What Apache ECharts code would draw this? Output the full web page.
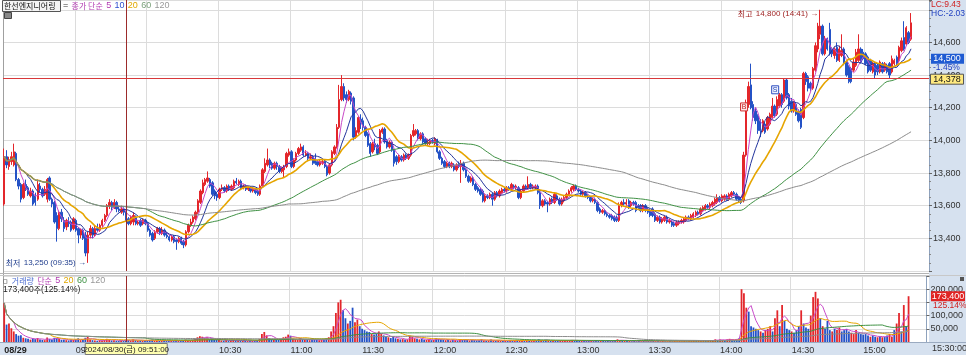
<!DOCTYPE html>
<html><head><meta charset="utf-8">
<script src="https://cdn.jsdelivr.net/npm/echarts@6/dist/echarts.min.js"></script>
<style>html,body{margin:0;padding:0;background:#fff;}#c{width:966px;height:355px;}</style>
</head><body><div id="c"></div>
<script>
// ---------- DATA (1-minute candles, 09:00 .. 15:19) ----------
const stockName = '한선엔지니어링';
const opens = [
13610,13900,13840,13870,13850,13920,13760,13730,13650,13730,
13710,13660,13690,13660,13640,13720,13700,13670,13640,13770,
13640,13620,13540,13460,13560,13510,13470,13500,13500,13460,
13510,13460,13420,13450,13420,13310,13420,13460,13420,13460,
13450,13480,13510,13540,13600,13620,13590,13620,13580,13560,
13580,13560,13520,13490,13500,13530,13490,13510,13490,13510,
13490,13450,13430,13400,13440,13460,13430,13450,13420,13410,
13390,13410,13390,13380,13400,13380,13360,13440,13480,13500,
13520,13560,13620,13680,13730,13750,13760,13740,13690,13670,
13650,13700,13710,13690,13720,13700,13710,13750,13730,13750,
13710,13720,13700,13710,13690,13700,13690,13670,13720,13810,
13850,13880,13860,13830,13860,13840,13810,13820,13840,13910,
13930,13840,13880,13920,13940,13960,13910,13920,13890,13900,
13890,13870,13850,13860,13870,13840,13800,13850,13920,13960,
14080,14250,14330,14280,14250,14290,14260,14020,14050,14130,
14120,14080,14040,13980,13930,13980,13970,13930,14050,14070,
14000,13960,13990,13940,13900,13870,13900,13880,13910,13890,
13910,14030,14040,14060,14010,14040,14010,13980,13980,14000,
13980,14000,13930,13890,13870,13840,13860,13840,13850,13820,
13860,13840,13860,13820,13780,13750,13770,13730,13710,13700,
13690,13630,13660,13650,13670,13640,13680,13660,13680,13700,
13690,13710,13700,13720,13710,13710,13650,13690,13720,13710,
13730,13710,13710,13720,13680,13600,13630,13620,13610,13640,
13620,13660,13640,13610,13630,13650,13670,13690,13700,13720,
13700,13690,13670,13680,13660,13650,13630,13640,13620,13580,
13560,13570,13550,13540,13540,13530,13530,13510,13600,13620,
13610,13630,13600,13620,13620,13600,13600,13570,13600,13580,
13570,13580,13550,13510,13530,13500,13510,13530,13500,13500,
13490,13480,13490,13500,13500,13510,13530,13520,13530,13540,
13560,13550,13570,13580,13600,13590,13600,13610,13620,13650,
13630,13640,13660,13640,13660,13680,13670,13650,13640,13630,
13910,14220,14340,14220,14180,14150,14120,14060,14100,14070,
14100,14140,14210,14160,14210,14280,14240,14370,14280,14240,
14180,14220,14180,14190,14140,14410,14390,14350,14320,14430,
14560,14650,14700,14530,14620,14680,14560,14520,14570,14490,
14520,14560,14480,14450,14440,14430,14460,14490,14560,14540,
14530,14510,14490,14420,14470,14460,14420,14470,14430,14460,
14470,14420,14470,14510,14490,14550,14630,14590,14660,14620];
const closes = [
13900,13850,13880,13900,13930,13760,13720,13640,13730,13700,
13670,13690,13610,13620,13730,13700,13660,13700,13760,13640,
13610,13500,13460,13560,13520,13460,13510,13490,13450,13520,
13450,13420,13450,13400,13310,13420,13460,13420,13460,13450,
13480,13510,13540,13600,13620,13590,13620,13580,13570,13580,
13560,13510,13490,13530,13540,13490,13500,13480,13510,13490,
13450,13420,13390,13440,13460,13430,13450,13420,13410,13390,
13410,13380,13380,13400,13370,13360,13440,13480,13500,13530,
13560,13630,13690,13740,13760,13770,13720,13670,13660,13650,
13700,13710,13690,13720,13700,13720,13750,13740,13750,13710,
13720,13700,13710,13690,13700,13680,13670,13720,13820,13860,
13880,13850,13830,13860,13840,13810,13830,13840,13920,13930,
13840,13880,13920,13950,13960,13910,13920,13890,13900,13860,
13860,13850,13870,13870,13840,13790,13850,13930,13960,14080,
14250,14330,14260,14250,14300,14240,14020,14060,14140,14110,
14080,14030,13970,13920,13980,13960,13920,14060,14070,13990,
13960,13990,13940,13860,13870,13900,13880,13910,13890,13910,
14030,14060,14060,14010,14040,13990,13980,13990,14000,13990,
14010,13930,13890,13860,13840,13860,13840,13860,13820,13850,
13840,13860,13820,13780,13750,13770,13730,13700,13690,13670,
13630,13660,13650,13670,13640,13680,13660,13690,13700,13690,
13710,13700,13730,13710,13720,13650,13690,13720,13710,13730,
13710,13720,13720,13680,13600,13630,13610,13610,13640,13620,
13670,13640,13610,13640,13650,13670,13690,13710,13720,13700,
13690,13670,13680,13660,13650,13630,13640,13620,13570,13560,
13570,13550,13540,13530,13520,13510,13510,13600,13620,13610,
13620,13590,13620,13610,13570,13590,13570,13600,13570,13560,
13540,13540,13510,13530,13500,13520,13530,13500,13510,13480,
13480,13500,13500,13510,13520,13530,13520,13540,13550,13560,
13550,13580,13590,13600,13590,13610,13620,13640,13650,13630,
13660,13660,13640,13670,13680,13670,13640,13630,13620,13910,
14230,14330,14200,14140,14120,14060,14060,14120,14050,14140,
14160,14210,14150,14250,14280,14220,14370,14260,14210,14180,
14230,14160,14120,14080,14410,14360,14320,14320,14440,14580,
14700,14700,14530,14620,14560,14530,14530,14560,14490,14560,
14550,14470,14400,14360,14360,14480,14540,14560,14480,14500,
14470,14420,14430,14470,14400,14420,14480,14420,14470,14420,
14400,14500,14490,14470,14570,14610,14560,14690,14600,14720];
const highs = [
13950,13940,13900,13930,13980,13930,13770,13740,13740,13760,
13720,13710,13700,13680,13760,13740,13710,13720,13770,13780,
13650,13630,13560,13570,13580,13530,13520,13530,13510,13530,
13520,13470,13460,13460,13440,13440,13480,13470,13480,13490,
13490,13520,13550,13610,13640,13630,13640,13630,13600,13600,
13590,13570,13530,13540,13560,13540,13510,13520,13520,13520,
13500,13460,13440,13450,13470,13470,13470,13460,13440,13420,
13420,13420,13400,13410,13410,13390,13450,13490,13520,13540,
13570,13640,13700,13760,13770,13810,13770,13750,13700,13680,
13710,13730,13720,13730,13730,13730,13760,13770,13760,13760,
13730,13730,13720,13720,13710,13710,13700,13730,13830,13890,
13950,13890,13870,13870,13870,13850,13840,13850,13930,13950,
13940,13890,13930,13960,13980,13970,13940,13930,13920,13910,
13920,13880,13880,13880,13880,13850,13860,13940,13970,14100,
14340,14400,14350,14300,14310,14300,14270,14080,14150,14160,
14140,14090,14050,13990,13990,14010,13980,14070,14080,14080,
14010,14000,14000,13950,13910,13910,13910,13920,13920,13920,
14040,14100,14070,14070,14050,14050,14020,14010,14010,14010,
14020,14010,13940,13900,13880,13870,13870,13870,13860,13860,
13870,13880,13870,13830,13790,13780,13780,13740,13720,13710,
13700,13670,13670,13680,13680,13690,13690,13700,13710,13710,
13720,13720,13740,13730,13730,13720,13700,13730,13730,13780,
13740,13730,13730,13730,13690,13640,13640,13630,13650,13650,
13680,13670,13650,13650,13660,13680,13700,13720,13730,13730,
13710,13700,13690,13690,13670,13660,13650,13650,13630,13590,
13580,13580,13560,13550,13550,13540,13540,13620,13630,13640,
13640,13640,13630,13630,13630,13610,13610,13610,13610,13590,
13580,13590,13560,13540,13540,13530,13540,13540,13520,13510,
13500,13510,13510,13520,13530,13540,13540,13550,13560,13570,
13570,13590,13600,13610,13610,13620,13630,13650,13670,13660,
13670,13670,13670,13680,13690,13690,13680,13660,13650,13930,
14250,14360,14470,14240,14200,14160,14130,14130,14110,14150,
14170,14260,14220,14270,14290,14290,14380,14380,14290,14260,
14240,14230,14190,14200,14420,14420,14400,14360,14450,14600,
14720,14800,14710,14640,14630,14720,14570,14570,14600,14580,
14650,14570,14490,14460,14450,14500,14560,14650,14570,14560,
14540,14520,14500,14480,14480,14470,14490,14480,14480,14470,
14480,14520,14500,14520,14580,14630,14730,14700,14670,14780];
const lows = [
13600,13830,13820,13850,13840,13750,13700,13620,13640,13690,
13660,13650,13600,13600,13630,13680,13650,13660,13620,13630,
13590,13490,13380,13450,13500,13440,13450,13470,13440,13450,
13440,13370,13400,13390,13290,13250,13400,13400,13410,13440,
13440,13470,13500,13530,13580,13570,13580,13560,13560,13550,
13540,13500,13480,13480,13480,13480,13480,13470,13480,13480,
13440,13410,13380,13390,13430,13420,13420,13410,13400,13380,
13380,13370,13330,13370,13360,13340,13350,13430,13470,13490,
13510,13550,13610,13670,13720,13740,13710,13660,13640,13630,
13640,13690,13680,13680,13690,13690,13700,13730,13720,13700,
13700,13690,13690,13680,13680,13670,13660,13660,13710,13800,
13840,13830,13820,13820,13820,13800,13800,13770,13830,13900,
13830,13830,13870,13910,13930,13900,13900,13880,13880,13850,
13850,13840,13840,13850,13830,13780,13790,13840,13910,13950,
14070,14240,14240,14230,14240,14220,14000,14010,14040,14070,
14060,14020,13960,13900,13920,13940,13910,13920,14040,13980,
13950,13950,13930,13840,13850,13860,13870,13870,13880,13880,
13900,14020,14030,14000,14000,13980,13970,13970,13970,13980,
13970,13920,13880,13850,13830,13830,13830,13830,13810,13810,
13830,13740,13810,13770,13740,13740,13720,13690,13680,13660,
13620,13620,13640,13640,13600,13630,13650,13650,13670,13680,
13680,13690,13690,13700,13700,13640,13640,13680,13700,13700,
13700,13700,13700,13670,13580,13590,13600,13560,13600,13610,
13610,13630,13600,13600,13620,13640,13660,13680,13690,13690,
13680,13660,13660,13650,13640,13620,13620,13610,13560,13550,
13550,13540,13530,13520,13510,13500,13500,13500,13590,13600,
13600,13580,13590,13600,13560,13580,13560,13560,13560,13550,
13530,13530,13500,13500,13490,13490,13500,13490,13490,13470,
13470,13470,13480,13490,13490,13500,13510,13510,13520,13530,
13540,13540,13560,13570,13580,13580,13590,13600,13610,13620,
13620,13630,13630,13630,13650,13660,13630,13620,13610,13620,
13900,14200,14190,14120,14100,14040,14020,14050,14040,14060,
14090,14130,14140,14150,14200,14200,14230,14250,14190,14170,
14170,14150,14110,14070,14130,14340,14300,14300,14310,14420,
14540,14620,14520,14520,14550,14520,14510,14500,14480,14480,
14510,14460,14390,14350,14350,14420,14450,14480,14470,14490,
14460,14410,14420,14410,14380,14400,14410,14410,14420,14410,
14380,14410,14460,14460,14480,14540,14550,14580,14590,14610];
const volumes = [
148000,66000,70000,52000,40000,30000,24000,26000,16000,14000,
12000,9000,14000,11000,15000,9000,8000,7000,17000,12000,
9000,16000,14000,12000,8000,9000,7000,6000,9000,8000,
10000,14000,7000,9000,16000,20000,9000,7000,6000,5000,
7000,6000,8000,12000,9000,6000,7000,5000,4000,6000,
5000,9000,8000,6000,10000,7000,5000,6000,5000,4000,
6000,8000,9000,5000,6000,4000,5000,6000,4000,5000,
4000,5000,7000,4000,5000,6000,9000,7000,6000,8000,
10000,18000,22000,20000,15000,18000,12000,14000,9000,10000,
8000,6000,5000,7000,5000,6000,8000,6000,5000,6000,
4000,5000,4000,5000,4000,5000,6000,12000,30000,38000,
25000,15000,12000,9000,10000,8000,9000,18000,20000,28000,
24000,12000,10000,9000,14000,10000,8000,9000,7000,10000,
9000,8000,7000,8000,10000,14000,18000,40000,60000,110000,
150000,160000,120000,90000,70000,80000,130000,75000,85000,60000,
50000,45000,40000,38000,30000,28000,32000,40000,30000,25000,
20000,18000,15000,22000,14000,12000,10000,11000,9000,10000,
24000,20000,14000,12000,10000,12000,9000,8000,9000,7000,
8000,14000,12000,10000,9000,7000,8000,6000,9000,7000,
6000,10000,8000,9000,8000,6000,8000,7000,6000,7000,
10000,6000,5000,6000,9000,6000,5000,6000,5000,4000,
5000,4000,6000,5000,4000,8000,6000,5000,4000,8000,
4000,5000,4000,6000,10000,6000,5000,8000,5000,4000,
6000,5000,6000,5000,6000,5000,7000,6000,7000,5000,
5000,4000,5000,4000,5000,4000,5000,4000,8000,6000,
4000,5000,4000,5000,4000,5000,6000,10000,6000,5000,
4000,5000,4000,3000,5000,3000,4000,3000,4000,3000,
4000,3000,5000,3000,4000,3000,4000,3000,3000,4000,
3000,4000,3000,4000,3000,4000,3000,5000,4000,5000,
4000,5000,4000,5000,4000,6000,5000,8000,10000,6000,
9000,8000,7000,10000,12000,9000,8000,10000,14000,200000,
185000,130000,115000,60000,55000,50000,45000,40000,35000,45000,
50000,60000,40000,90000,120000,60000,140000,80000,50000,45000,
40000,35000,45000,60000,120000,70000,55000,50000,100000,170000,
190000,165000,90000,60000,50000,80000,45000,40000,50000,45000,
55000,40000,45000,50000,40000,35000,30000,45000,35000,30000,
28000,30000,25000,20000,25000,20000,18000,22000,18000,20000,
25000,30000,20000,45000,70000,110000,40000,140000,60000,173400];
const maPeriods = [5, 10, 20, 60, 120];
const volMaPeriods = [5, 20, 60, 120];
const priceTicks = [13400, 13600, 13800, 14000, 14200, 14400, 14600];
const volTicks = [50000, 100000, 200000];
const xTickTimes = ['09:00','09:30','10:30','11:00','11:30','12:00','12:30','13:00','13:30','14:00','14:30','15:00'];
const crossTime = '09:51', crossPrice = 14378;
const lastPrice = 14500, lastVol = 173400;
const lowInfo = {time:'09:35', price:13250}, highInfo = {time:'14:41', price:14800};

// ---------- build ----------
const categories = [];
for (let m = 0; m < 387; m++) { const t = 540 + m; categories.push(String(Math.floor(t/60)).padStart(2,'0') + ':' + String(t%60).padStart(2,'0')); }
const candles = opens.map((o,i)=>[o, closes[i], lows[i], highs[i]]);
function sma(arr, n){ return arr.map((_,i)=>{ const s=Math.max(0,i-n+1); let sum=0; for(let k=s;k<=i;k++) sum+=arr[k]; return +(sum/(i-s+1)).toFixed(1); }); }
const RED='#e3262b', BLUE='#2452c6';
const maColors = {5:'#c84ac8',10:'#22349c',20:'#e6a500',60:'#3f9144',120:'#8c8c8c'};
const fmt = v => Number(v).toLocaleString('en-US');
const isGrid = v => v.endsWith(':00') || v.endsWith(':30');
const FONT = "'Liberation Sans', Arial, sans-serif";
const KFONT = "'Noto Sans CJK KR', sans-serif";

const series = [{
  type:'candlestick', xAxisIndex:0, yAxisIndex:0, data:candles, barWidth:'78%', z:2,
  itemStyle:{color:RED, color0:BLUE, borderColor:RED, borderColor0:BLUE, borderWidth:1},
  markLine:{symbol:'none', silent:true, label:{show:false}, animation:false,
    data:[{xAxis:crossTime, lineStyle:{color:'#9c2b2b', width:1, type:'solid'}},
          {yAxis:crossPrice, lineStyle:{color:'#d8383a', width:1, type:'solid'}}]}
}];
maPeriods.forEach(n=>series.push({type:'line', xAxisIndex:0, yAxisIndex:0, data:sma(closes,n), symbol:'none', z:3,
  lineStyle:{color:maColors[n], width:n===20?1.6:1}}));
series.push({type:'bar', xAxisIndex:1, yAxisIndex:1, data:volumes, barWidth:'75%', z:2,
  itemStyle:{color:p=> closes[p.dataIndex]>=opens[p.dataIndex]?RED:BLUE},
  markLine:{symbol:'none', silent:true, label:{show:false}, animation:false,
    data:[{xAxis:crossTime, lineStyle:{color:'#9c2b2b', width:1, type:'solid'}}]}});
volMaPeriods.forEach(n=>series.push({type:'line', xAxisIndex:1, yAxisIndex:1, data:sma(volumes,n), symbol:'none', z:3,
  lineStyle:{color:maColors[n], width:1}}));

const xAxisBase = {type:'category', data:categories, boundaryGap:true,
  axisLine:{show:false}, axisTick:{show:false},
  splitLine:{show:true, interval:(i,v)=>isGrid(v), lineStyle:{color:'#dcdcdc', width:1}}};
const chart = echarts.init(document.getElementById('c'), null, {renderer:'canvas'});
chart.setOption({
  animation:false, backgroundColor:'#ffffff',
  grid:[{left:3, right:37, top:0, height:271}, {left:3, right:37, top:276, height:66}],
  xAxis:[Object.assign({}, xAxisBase, {gridIndex:0, axisLabel:{show:false}}),
         Object.assign({}, xAxisBase, {gridIndex:1, axisLabel:{show:true, interval:(i,v)=>xTickTimes.includes(v),
            formatter:v=> v==='09:00'?'{b|08/29}':v, align:'left', margin:4, fontSize:9, color:'#333', fontFamily:FONT,
            rich:{b:{fontWeight:'bold', fontSize:9, color:'#222', fontFamily:FONT}}}})],
  yAxis:[{type:'value', gridIndex:0, position:'right', min:13200, max:14860, interval:200,
      axisLine:{show:true, lineStyle:{color:'#8ea2bd'}}, axisTick:{show:true, length:3, lineStyle:{color:'#666'}},
      minorTick:{show:true, splitNumber:4, length:2, lineStyle:{color:'#888'}},
      splitLine:{show:true, lineStyle:{color:'#dcdcdc'}},
      axisLabel:{margin:4, fontSize:9, color:'#333', fontFamily:FONT, formatter:v=> priceTicks.includes(v)?fmt(v):''}},
    {type:'value', gridIndex:1, position:'right', min:0, max:250000, interval:50000,
      axisLine:{show:true, lineStyle:{color:'#8ea2bd'}}, axisTick:{show:true, length:3, lineStyle:{color:'#666'}},
      splitLine:{show:true, lineStyle:{color:'#dcdcdc'}},
      axisLabel:{margin:4, fontSize:9, color:'#333', fontFamily:FONT, formatter:v=> volTicks.includes(v)?fmt(v):''}}],
  series
});

// ---------- overlays positioned through the axes ----------
const yP = v => chart.convertToPixel({yAxisIndex:0}, v);
const yV = v => chart.convertToPixel({yAxisIndex:1}, v);
const xC = t => chart.convertToPixel({xAxisIndex:0}, t);
const K = (s, c, fs) => ({fill:c, fontSize:fs||8, fontFamily:KFONT});
const N = (c, fs) => ({fill:c, fontSize:fs||8, fontFamily:FONT});
const g = [];
g.push({type:'rect', z:-5, silent:true, shape:{x:929,y:0,width:37,height:355}, style:{fill:'#d6e1ef'}});
g.push({type:'rect', z:-5, silent:true, shape:{x:0,y:342,width:966,height:13}, style:{fill:'#d6e1ef'}});
g.push({type:'line', z:1, silent:true, shape:{x1:0,y1:342.5,x2:966,y2:342.5}, style:{stroke:'#9aaac0', lineWidth:1}});
g.push({type:'line', z:1, silent:true, shape:{x1:3.5,y1:0,x2:3.5,y2:342}, style:{stroke:'#a0a0a0', lineWidth:1}});
g.push({type:'line', z:1, silent:true, shape:{x1:0,y1:273.5,x2:929,y2:273.5}, style:{stroke:'#b4b4b4', lineWidth:1}});
g.push({type:'line', z:1, silent:true, shape:{x1:0,y1:275.5,x2:966,y2:275.5}, style:{stroke:'#c8c8c8', lineWidth:1}});
// legends
g.push({type:'rect', z:10, shape:{x:2.5,y:0.5,width:58,height:11}, style:{fill:'#f4f4f4', stroke:'#555', lineWidth:1}});
g.push({type:'text', z:11, x:4, y:6, style:{text:stockName, fontSize:8, fontFamily:KFONT, fill:'#111', verticalAlign:'middle'}});
g.push({type:'text', z:11, x:63, y:6, style:{text:'{e|=} {p|종가 단순} {q|5} {b|10} {y|20} {g|60} {s|120}', verticalAlign:'middle',
  rich:{e:N('#333',9), p:K('','#b23cb2'), q:N('#b23cb2',9), b:N('#2e4fd0',9), y:N('#e0a800',9), g:N('#7aa07a',9), s:N('#999',9)}}});
g.push({type:'rect', z:10, shape:{x:4.5,y:12.5,width:7,height:6}, style:{fill:'#888', stroke:'#444', lineWidth:1}});
g.push({type:'text', z:11, x:2, y:281, style:{text:'{e|ㅁ} {v|거래량} {p|단순} {q|5} {y|20} {g|60} {s|120}', verticalAlign:'middle',
  rich:{e:K('','#666',7), v:K('','#4a6bd0'), p:K('','#b23cb2'), q:N('#b23cb2',9), y:N('#e0a800',9), g:N('#3f9144',9), s:N('#999',9)}}});
g.push({type:'text', z:11, x:3, y:290, style:{text:'{n|173,400}{k|주}{n|(125.14%)}', verticalAlign:'middle',
  rich:{n:N('#222',8.5), k:K('','#222')}}});
// right column texts
g.push({type:'text', z:11, x:931, y:5, style:{text:'LC:9.43', fontSize:8.5, fontFamily:FONT, fill:'#d02020', verticalAlign:'middle'}});
g.push({type:'text', z:11, x:931, y:13.5, style:{text:'HC:-2.03', fontSize:8.5, fontFamily:FONT, fill:'#2040c0', verticalAlign:'middle'}});
const yLast = yP(lastPrice);
g.push({type:'rect', z:20, shape:{x:931,y:yLast-5,width:33,height:10}, style:{fill:'#1f5bd2'}});
g.push({type:'text', z:21, x:947, y:yLast, style:{text:fmt(lastPrice), fontSize:9, fontFamily:FONT, fill:'#fff', align:'center', verticalAlign:'middle'}});
g.push({type:'text', z:21, x:933, y:yLast+9, style:{text:'-1.45%', fontSize:8.5, fontFamily:FONT, fill:'#2040c0', verticalAlign:'middle'}});
const yCross = yP(crossPrice);
g.push({type:'rect', z:20, shape:{x:930.5,y:yCross-4.5,width:33,height:10}, style:{fill:'#ffe97f', stroke:'#555', lineWidth:1}});
g.push({type:'text', z:21, x:947, y:yCross+0.5, style:{text:fmt(crossPrice), fontSize:9, fontFamily:FONT, fill:'#111', align:'center', verticalAlign:'middle'}});
const yLV = yV(lastVol);
g.push({type:'rect', z:20, shape:{x:931,y:yLV-5,width:34,height:10}, style:{fill:'#e02424'}});
g.push({type:'text', z:21, x:948, y:yLV, style:{text:fmt(lastVol), fontSize:9, fontFamily:FONT, fill:'#fff', align:'center', verticalAlign:'middle'}});
g.push({type:'text', z:21, x:933, y:yLV+9, style:{text:'125.14%', fontSize:8.5, fontFamily:FONT, fill:'#d02020', verticalAlign:'middle'}});
g.push({type:'text', z:11, x:932, y:349, style:{text:'15:30:00', fontSize:9, fontFamily:FONT, fill:'#333', verticalAlign:'middle'}});
g.push({type:'rect', z:12, shape:{x:960,y:277,width:4,height:4}, style:{fill:'#555'}});
// date box under crosshair
const xCross = xC(crossTime);
g.push({type:'rect', z:20, shape:{x:xCross-41,y:343.5,width:82,height:11}, style:{fill:'#ffffb0', stroke:'#777', lineWidth:1}});
g.push({type:'text', z:21, x:xCross, y:349.5, style:{text:'{n|2024/08/30(}{k|금}{n|) 09:51:00}', align:'center', verticalAlign:'middle',
  rich:{n:N('#222',8), k:K('','#222',7.5)}}});
// high / low labels
const xLow = xC(lowInfo.time), yLow = yP(lowInfo.price);
g.push({type:'text', z:21, x:xLow-2, y:yLow, style:{text:'{k|최저} {n|'+fmt(lowInfo.price)+' ('+lowInfo.time+') →}', align:'right', verticalAlign:'middle',
  rich:{k:K('','#23408f'), n:N('#23408f',8)}}});
const xHigh = xC(highInfo.time), yHigh = yP(highInfo.price);
g.push({type:'text', z:21, x:xHigh-2, y:yHigh+4, style:{text:'{k|최고} {n|'+fmt(highInfo.price)+' ('+highInfo.time+') →}', align:'right', verticalAlign:'middle',
  rich:{k:K('','#a02424'), n:N('#a02424',8)}}});
// signal markers
const bx = xC('14:09'), by = yP(14205);
g.push({type:'rect', z:21, shape:{x:bx-3,y:by-4,width:7,height:8}, style:{fill:'#fde8e8', stroke:'#d03030', lineWidth:1}});
g.push({type:'text', z:22, x:bx+0.5, y:by, style:{text:'B', fontSize:7, fontFamily:FONT, fill:'#c02020', align:'center', verticalAlign:'middle'}});
const sx = xC('14:22'), sy = yP(14310);
g.push({type:'rect', z:21, shape:{x:sx-3,y:sy-4,width:7,height:8}, style:{fill:'#eef2ff', stroke:'#3050c0', lineWidth:1}});
g.push({type:'text', z:22, x:sx+0.5, y:sy, style:{text:'S', fontSize:7, fontFamily:FONT, fill:'#2040b0', align:'center', verticalAlign:'middle'}});
chart.setOption({graphic:{elements:g}});
</script>
</body></html>
